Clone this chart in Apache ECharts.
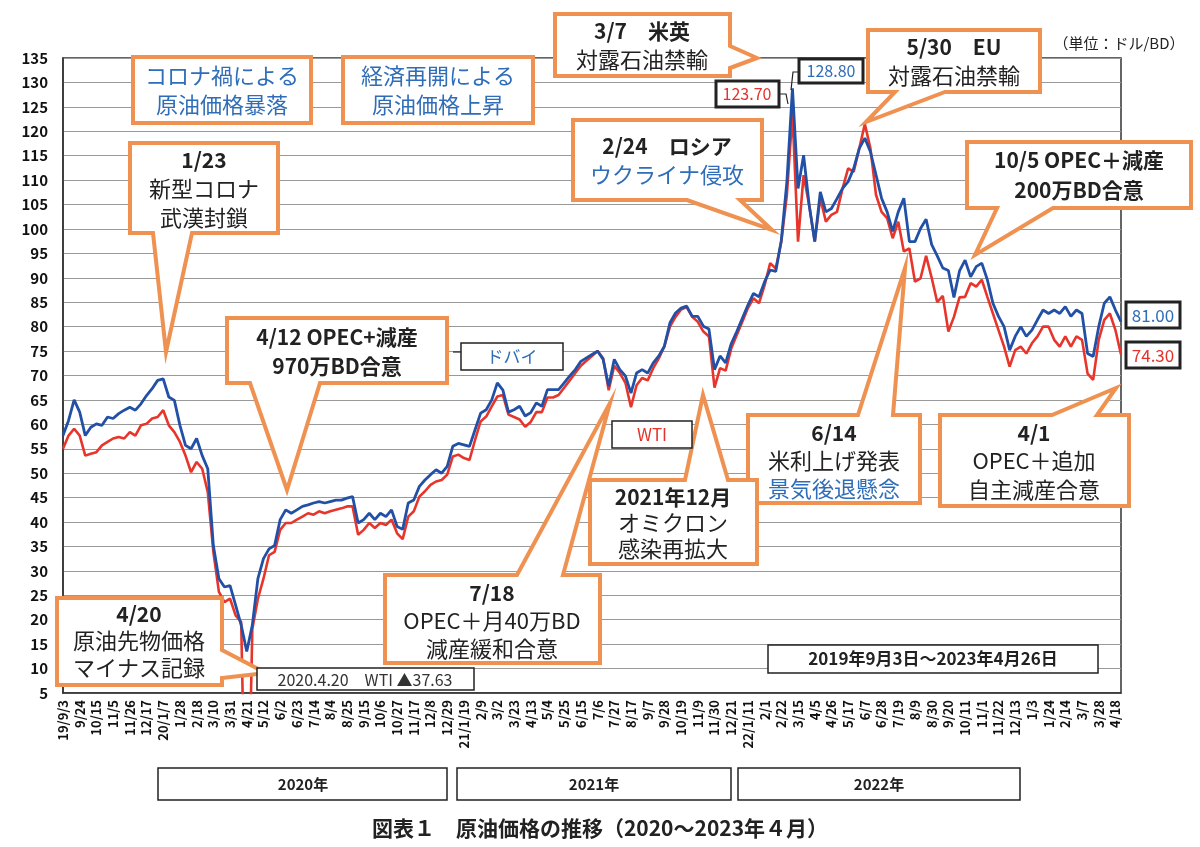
<!DOCTYPE html>
<html><head><meta charset="utf-8">
<script src="https://cdn.jsdelivr.net/npm/echarts@6/dist/echarts.min.js"></script>
<style>html,body{margin:0;padding:0;background:#fff}#c{width:1200px;height:847px}</style>
</head><body><div id="c"></div>
<script>
// ---- tick labels (every 3 weeks) ----
const tickLabels = ['19/9/3','9/24','10/15','11/5','11/26','12/17','20/1/7','1/28','2/18','3/10','3/31','4/21','5/12','6/2','6/23','7/14','8/4','8/25','9/15','10/6','10/27','11/17','12/8','12/29','21/1/19','2/9','3/2','3/23','4/13','5/4','5/25','6/15','7/6','7/27','8/17','9/7','9/28','10/19','11/9','11/30','12/21','22/1/11','2/1','2/22','3/15','4/5','4/26','5/17','6/7','6/28','7/19','8/9','8/30','9/20','10/11','11/1','11/22','12/13','1/3','1/24','2/14','3/7','3/28','4/18'];

// ---- weekly values (2019/9/3 ... 2023/4/25) ----
const dubai = [57.7,60.8,65,62.5,57.7,59.4,60.1,59.8,61.5,61.2,
62.2,62.9,63.5,62.9,64.2,65.9,67.3,69.0,69.3,65.6,
64.9,59.8,55.7,55.0,57.1,53.6,50.9,35.2,28.4,26.7,
27.0,23.0,18.9,13.5,18.9,28.4,32.5,34.5,35.2,40.5,
42.5,41.8,42.5,43.2,43.5,43.9,44.2,43.9,44.2,44.5,
44.5,44.9,45.2,39.8,40.5,41.8,40.5,41.8,41.1,42.5,
39.1,38.5,43.9,44.5,47.3,48.6,49.7,50.7,50.0,51.4,
55.5,56.1,55.8,55.5,58.9,62.3,63.0,65.0,68.5,67.0,
62.5,63.0,63.7,61.7,62.4,64.4,63.7,67.1,67.1,67.1,
68.5,69.9,71.2,72.9,73.6,74.3,75.0,73.3,67.8,73.3,
71.2,69.9,66.4,70.5,71.2,70.5,72.6,74.0,76.0,80.8,
82.8,83.8,84.2,82.1,82.1,80.1,79.5,71.2,74.0,72.6,
76.5,79.0,81.7,84.4,86.8,86.1,89.2,91.6,91.3,97.7,
109.7,128.8,108.3,115.1,104.9,97.4,107.6,103.5,104.2,106.2,
108.3,109.7,112.4,116.5,118.6,115.8,111.1,106.3,103.5,99.5,
103.5,106.3,97.4,97.4,100.1,102.0,96.8,94.5,92.0,91.5,
86.0,91.4,93.6,90.2,92.3,93.0,89.6,84.8,82.1,80.0,
75.2,78.0,80.0,78.0,79.3,81.4,83.4,82.7,83.4,82.7,
84.1,82.1,83.4,82.7,74.5,73.9,80.0,84.8,86.1,83.4,
81.0];
const wti = [55.0,57.7,59.1,57.7,53.6,54.0,54.3,55.7,56.4,57.1,
57.4,57.1,58.4,57.7,59.8,60.1,61.2,61.5,62.9,59.8,
58.4,56.4,53.6,50.2,52.3,50.9,46.1,33.9,25.7,23.6,
24.3,20.9,19.5,-37.63,18.1,24.3,28.4,33.2,33.9,38.4,
39.8,39.8,40.5,41.1,41.8,41.5,42.2,41.8,42.2,42.5,
42.8,43.2,43.2,37.4,38.4,39.8,38.8,39.8,39.4,40.5,
37.7,36.5,41.1,42.2,45.2,46.3,47.6,48.3,48.6,49.7,
53.4,53.8,53.1,52.7,56.8,60.6,61.6,63.7,65.7,66.0,
62.0,61.5,61.0,59.5,60.5,62.5,62.5,65.5,65.5,66.0,
67.5,69.0,70.5,72.0,73.0,74.0,75.0,73.5,67.0,72.0,
70.5,68.5,63.5,68.0,69.5,69.0,71.5,73.5,76.0,80.0,
82.0,83.5,84.0,82.0,81.0,79.0,78.0,67.5,71.5,71.0,
75.5,78.3,81.0,83.8,85.8,84.8,88.5,93.0,91.9,97.4,
107.0,123.7,97.4,111.0,104.9,97.4,106.3,101.5,102.9,103.5,
108.3,112.4,111.7,116.5,121.5,116.5,107.0,103.5,102.2,98.1,
101.5,95.4,96.0,89.2,89.9,94.5,90.0,85.0,86.3,79.0,
82.0,86.0,86.1,88.9,88.2,89.6,86.1,82.7,79.3,75.9,
71.8,75.2,75.9,74.5,76.6,78.0,80.0,80.0,77.3,75.9,
78.0,75.9,78.0,77.3,70.4,69.1,77.3,81.4,82.7,79.3,
74.3];
const yearLabels = ['2020年','2021年','2022年'];

// weekly category dates
const categories = dubai.map((_, i) => {
  const d = new Date(Date.UTC(2019, 8, 3 + 7 * i));
  return d.getUTCFullYear() + '/' + (d.getUTCMonth() + 1) + '/' + d.getUTCDate();
});

const FONT = '"Noto Sans CJK JP", "Noto Sans", sans-serif';
const ORANGE = '#EF9150';
const BLUE_T = '#2F6DB8';
const RED_T = '#E3332B';
const BLUE_L = '#2150A6';
const RED_L = '#E8352B';

function callout(x, y, w, h, side, p1, p2, tip) {
  let pts;
  if (side === 'bottom') pts = [[x,y],[x+w,y],[x+w,y+h],[p2,y+h],tip,[p1,y+h],[x,y+h]];
  else if (side === 'top') pts = [[x,y],[p1,y],tip,[p2,y],[x+w,y],[x+w,y+h],[x,y+h]];
  else if (side === 'right') pts = [[x,y],[x+w,y],[x+w,p1],tip,[x+w,p2],[x+w,y+h],[x,y+h]];
  else pts = [[x,y],[x+w,y],[x+w,y+h],[x,y+h]];
  return {type:'polygon', z:100, shape:{points:pts}, style:{fill:'#fff', stroke:ORANGE, lineWidth:4, lineJoin:'miter'}};
}
function txt(x, y, s, size, color, bold) {
  return {type:'text', z:102, x:x, y:y, style:{text:s, fontSize:size, fontWeight: bold ? 'bold' : 'normal',
    fontFamily:FONT, fill:color || '#222', align:'center', verticalAlign:'middle',
    textAlign:'center', textVerticalAlign:'middle'}};
}
function box(x, y, w, h, lw) {
  return {type:'rect', z:101, shape:{x:x, y:y, width:w, height:h}, style:{fill:'#fff', stroke:'#222', lineWidth:lw || 1.5}};
}
function line(pts, lw) {
  return {type:'polyline', z:101, shape:{points:pts}, style:{stroke:'#222', lineWidth:lw || 1.2, fill:null}};
}

const G = [];
// coronavirus crash / reopening (blue titles)
G.push(callout(133,57,178,66,'none'));
G.push(txt(222,76,'コロナ禍による',22,BLUE_T), txt(222,105,'原油価格暴落',22,BLUE_T));
G.push(callout(343,57,190,66,'none'));
G.push(txt(438,76,'経済再開による',22,BLUE_T), txt(438,105,'原油価格上昇',22,BLUE_T));
// 3/7
G.push(callout(555,14,175,62,'right',46,68,[757,58]));
G.push(txt(642,31,'3/7　米英',21,'#222',true), txt(642,60,'対露石油禁輸',22,'#222'));
// 5/30
G.push(callout(868,30,172,62,'bottom',895,945,[866,122]));
G.push(txt(954,47,'5/30　EU',21,'#222',true), txt(954,76,'対露石油禁輸',22,'#222'));
// 1/23
G.push(callout(130,143,148,90,'bottom',153,192,[166,352]));
G.push(txt(204,160,'1/23',21,'#222',true), txt(204,189,'新型コロナ',22,'#222'), txt(204,218,'武漢封鎖',22,'#222'));
// 2/24
G.push(callout(573,120,189,80,'bottom',687,740,[772,230]));
G.push(txt(667,146,'2/24　ロシア',21,'#222',true), txt(667,175,'ウクライナ侵攻',22,BLUE_T));
// 10/5
G.push(callout(967,142,224,66,'bottom',997,1053,[975,255]));
G.push(txt(1079,160,'10/5 OPEC＋減産',21,'#222',true), txt(1079,190,'200万BD合意',21,'#222',true));
// 4/12
G.push(callout(227,318,220,65,'bottom',250,320,[287,490]));
G.push(txt(337,337,'4/12 OPEC+減産',21,'#222',true), txt(337,366,'970万BD合意',21,'#222',true));
// 6/14
G.push(callout(748,415,172,88,'top',858,893,[905,268]));
G.push(txt(834,433,'6/14',21,'#222',true), txt(834,461,'米利上げ発表',22,'#222'), txt(834,489,'景気後退懸念',22,BLUE_T));
// 4/1
G.push(callout(940,415,189,91,'top',1052,1097,[1116,388]));
G.push(txt(1034,433,'4/1',21,'#222',true), txt(1034,461,'OPEC＋追加',22,'#222'), txt(1034,490,'自主減産合意',22,'#222'));
// 2021/12
G.push(callout(590,480,167,84,'top',685,728,[703,395]));
G.push(txt(673,497,'2021年12月',21,'#222',true), txt(673,523,'オミクロン',22,'#222'), txt(673,549,'感染再拡大',22,'#222'));
// 7/18
G.push(callout(385,575,215,88,'top',517,563,[610,403]));
G.push(txt(492,593,'7/18',21,'#222',true), txt(492,621,'OPEC＋月40万BD',22,'#222'), txt(492,649,'減産緩和合意',22,'#222'));
// 4/20
G.push(callout(57,598,165,87,'right',650,678,[266,673]));
G.push(txt(139,614,'4/20',21,'#222',true), txt(139,641,'原油先物価格',22,'#222'), txt(139,668,'マイナス記録',22,'#222'));

// small black boxes
G.push(line([[453,352],[461,352]]), box(461,343,102,27), txt(512,357,'ドバイ',17,BLUE_T));
G.push(box(612,421,80,27), txt(652,435,'WTI',17,RED_T));
G.push(box(257,668,217,22), txt(365,680,'2020.4.20　WTI ▲37.63',16,'#333'));
G.push(box(768,645,330,28), txt(933,659,'2019年9月3日～2023年4月26日',17,'#222',true));
G.push(box(1126,302,54,26,3), txt(1153,316,'81.00',17,BLUE_T));
G.push(box(1126,342,54,26,3), txt(1153,356,'74.30',17,RED_T));
G.push(line([[799,72],[793,72],[791,90]]), box(799,59,64,24,3), txt(831,71,'128.80',16,BLUE_T));
G.push(line([[779,94],[786,94],[788,104]]), box(716,81,63,26,3), txt(747,94,'123.70',16,RED_T));
// year boxes
G.push(box(158,768,289,32), txt(303,784,yearLabels[0],15,'#222',true));
G.push(box(457,768,274,32), txt(594,784,yearLabels[1],15,'#222',true));
G.push(box(738,768,282,32), txt(879,784,yearLabels[2],15,'#222',true));
// unit and title
G.push(txt(1119,43,'（単位：ドル/BD）',15,'#222'));
G.push(txt(600,828,'図表１　原油価格の推移（2020～2023年４月）',21,'#222',true));

const chart = echarts.init(document.getElementById('c'));
chart.setOption({
  animation: false,
  backgroundColor: '#fff',
  grid: {left:63, right:79, top:58, bottom:154, show:true, borderColor:'#333', borderWidth:1.5, backgroundColor:'transparent'},
  xAxis: {
    type:'category', data:categories, boundaryGap:false,
    axisLine:{show:true, lineStyle:{color:'#333', width:1.5}},
    axisTick:{show:false}, splitLine:{show:false},
    axisLabel:{interval:2, rotate:90, margin:7, fontSize:13, fontWeight:'bold', color:'#111', fontFamily:FONT,
      formatter:(v, i) => (i % 3 === 0 ? (tickLabels[i / 3] || '') : '')}
  },
  yAxis: {
    type:'value', min:5, max:135, interval:5,
    axisLine:{show:true, lineStyle:{color:'#333', width:1.5}}, axisTick:{show:false},
    axisLabel:{fontSize:15, fontWeight:'bold', color:'#111', margin:15, fontFamily:FONT},
    splitLine:{lineStyle:{color:'#999', width:1.2}}
  },
  series: [
    {type:'line', name:'WTI', data:wti, showSymbol:false, clip:true, z:2,
      lineStyle:{color:RED_L, width:2.6}, itemStyle:{color:RED_L}},
    {type:'line', name:'ドバイ', data:dubai, showSymbol:false, clip:true, z:3,
      lineStyle:{color:BLUE_L, width:2.8}, itemStyle:{color:BLUE_L}}
  ],
  graphic: {elements: G}
});
</script>
</body></html>
